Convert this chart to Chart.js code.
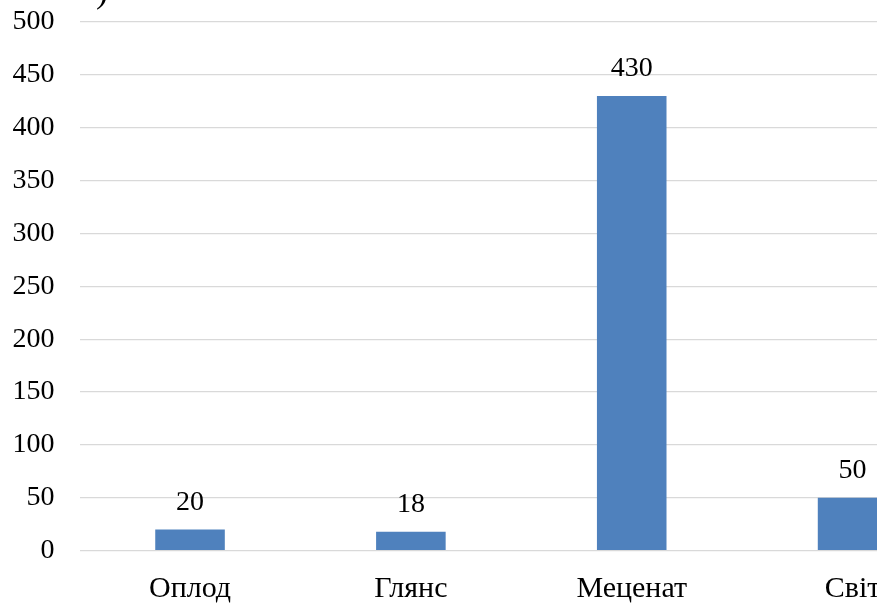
<!DOCTYPE html>
<html>
<head>
<meta charset="utf-8">
<script src="https://cdn.jsdelivr.net/npm/chart.js@4"></script>
<style>
  html, body { margin: 0; padding: 0; background: #fff; overflow: hidden; }
  #wrap { position: relative; width: 963px; height: 604px; }
</style>
</head>
<body>
<div id="wrap"><canvas id="salesChart"></canvas></div>
<script>
// Chart data
const categories = ['Оплод', 'Глянс', 'Меценат', 'Світ'];
const values = [20, 18, 430, 50];
const yTicks = [0, 50, 100, 150, 200, 250, 300, 350, 400, 450, 500];

const serif = "'Liberation Serif', 'Times New Roman', serif";

// value labels above each bar
const barLabels = {
    id: 'barLabels',
    afterDatasetsDraw(chart) {
        const c = chart.ctx;
        const meta = chart.getDatasetMeta(0);
        c.save();
        c.font = '28px ' + serif;
        c.fillStyle = '#000';
        c.textAlign = 'center';
        c.textBaseline = 'alphabetic';
        meta.data.forEach((bar, i) => {
            c.fillText(String(values[i]), bar.x, bar.y - 20);
        });
        c.restore();
    }
};

// leftover bracket from the caption above
const caption = {
    id: 'caption',
    afterDraw(chart) {
        const c = chart.ctx;
        c.save();
        c.font = '36px ' + serif;
        c.fillStyle = '#000';
        c.textAlign = 'left';
        c.textBaseline = 'alphabetic';
        c.fillText(')', 96, 2);
        c.restore();
    }
};

const ctx = document.getElementById('salesChart').getContext('2d');
const salesChart = new Chart(ctx, {
    type: 'bar',
    data: {
        labels: categories,
        datasets: [{
            data: values,
            backgroundColor: '#4f81bd',
            borderWidth: 0,
            barPercentage: 0.63,
            categoryPercentage: 0.5
        }]
    },
    options: {
        responsive: true,
        maintainAspectRatio: false,
        animation: false,
        layout: { padding: { top: 22, left: 0, right: 0, bottom: 0 } },
        plugins: {
            legend: { display: false },
            tooltip: { enabled: false }
        },
        scales: {
            y: {
                min: 0,
                max: 500,
                afterBuildTicks(scale) {
                    scale.ticks = yTicks.map(v => ({ value: v }));
                },
                afterFit(scale) { scale.width = 79.6; },
                border: { display: false },
                // invisible tick marks keep the labels away from the plot
                grid: { color: '#d9d9d9', lineWidth: 1.3, tickLength: 25, tickColor: 'rgba(0,0,0,0)' },
                ticks: {
                    color: '#000',
                    padding: 0,
                    font: { family: serif, size: 28 }
                }
            },
            x: {
                afterFit(scale) { scale.height = 53.3; },
                border: { display: false },
                grid: { display: false, drawTicks: false },
                ticks: {
                    color: '#000',
                    padding: 20,
                    maxRotation: 0,
                    autoSkip: false,
                    font: { family: serif, size: 30 }
                }
            }
        }
    },
    plugins: [barLabels, caption]
});
</script>
</body>
</html>
